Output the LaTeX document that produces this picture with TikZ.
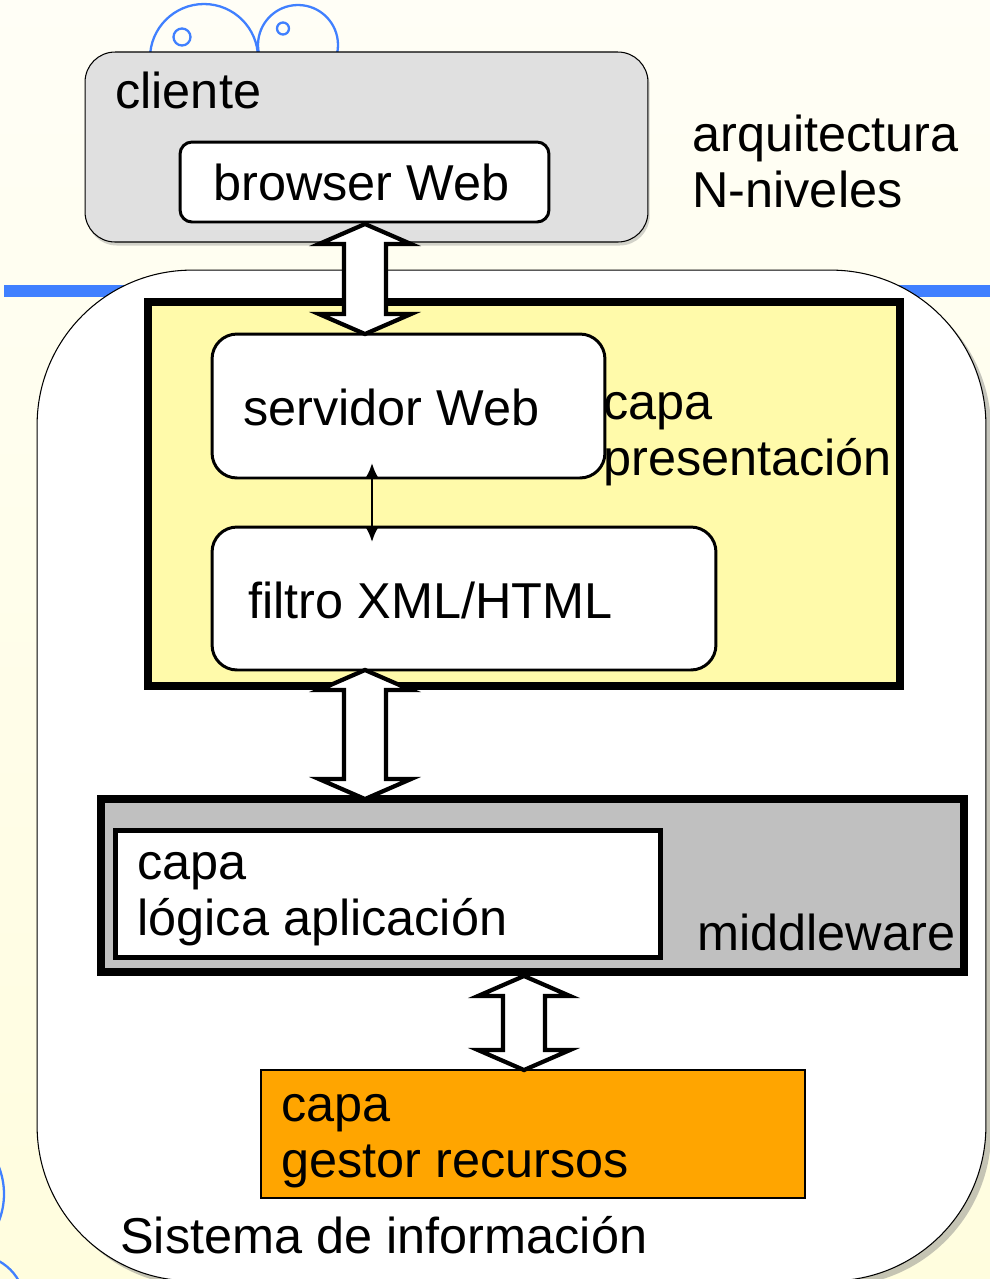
\documentclass[tikz,border=0pt]{standalone}
\usepackage{fontspec}
\setmainfont{Liberation Sans}
\usetikzlibrary{positioning,arrows.meta,calc,shadows}
\definecolor{bgtop}{RGB}{255,254,246}
\definecolor{bgbot}{RGB}{255,253,222}
\definecolor{bubble}{RGB}{64,128,255}
\definecolor{clientgray}{RGB}{224,224,224}
\definecolor{presyellow}{RGB}{255,250,170}
\definecolor{midgray}{RGB}{192,192,192}
\definecolor{resorange}{RGB}{255,165,0}
% hollow double arrow between two points on one vertical
\newcommand{\fatarrow}[2]{%
  \draw[fatarrow] (#1) -- ($(#1)+(46,20)$) -- ($(#1)+(21,20)$) -- ($(#2)+(21,-20)$)
    -- ($(#2)+(46,-20)$) -- (#2) -- ($(#2)+(-46,-20)$) -- ($(#2)+(-21,-20)$)
    -- ($(#1)+(-21,20)$) -- ($(#1)+(-46,20)$) -- cycle;}

\begin{document}
\begin{tikzpicture}[x=0.02cm,y=-0.02cm,
  box/.style={draw,inner sep=0pt,outer sep=0pt},
  lbl/.style={anchor=base west,inner sep=0pt,align=left,font=\fontsize{28.7}{31.5}\selectfont},
  fatarrow/.style={draw=black,fill=white,line width=2.4pt,line join=miter}]
  \useasboundingbox (0,0) rectangle (990,1279);
  \clip (0,0) rectangle (990,1279);
  % background
  \shade[top color=bgtop,bottom color=bgbot] (0,0) rectangle (990,1279);
  \draw[bubble,line width=6.3pt] (4,291) -- (1000,291);
  % bubbles
  \draw[bubble,line width=1.3pt] (204,58) circle (54);
  \draw[bubble,line width=1.3pt] (298,45) circle (40);
  \draw[bubble,line width=1.3pt] (182,37) circle (8.5);
  \draw[bubble,line width=1.3pt] (283,28.5) circle (6);
  \draw[bubble,line width=1.3pt] (-70,1194) circle (74);
  \draw[bubble,line width=1.3pt] (-25,1305) circle (50);
  % client side
  \node[box,fill=clientgray,line width=0.6pt,rounded corners=0.6cm,minimum width=11.26cm,minimum height=3.8cm,
    drop shadow={shadow xshift=1pt,shadow yshift=-2pt,opacity=0.35}] (cliente) at (366.5,147) {};
  \node[box,fill=white,line width=1.7pt,rounded corners=0.24cm,minimum width=7.38cm,minimum height=1.6cm] (browser) at (364.5,182) {};
  % information system
  \node[box,fill=white,line width=0.6pt,rounded corners=3.1cm,minimum width=18.98cm,minimum height=20.22cm,
    drop shadow={shadow xshift=3pt,shadow yshift=-3pt,opacity=0.45}] (sistema) at (511.5,775.5) {};
  \node[box,fill=presyellow,line width=4.5pt,minimum width=15.04cm,minimum height=7.68cm] (presentacion) at (524,494) {};
  \node[box,fill=white,line width=1.7pt,rounded corners=0.5cm,minimum width=7.86cm,minimum height=2.88cm] (servidor) at (408.5,406) {};
  \node[box,fill=white,line width=1.7pt,rounded corners=0.5cm,minimum width=10.08cm,minimum height=2.86cm] (filtro) at (464,598.5) {};
  \node[box,fill=midgray,line width=4.5pt,minimum width=17.26cm,minimum height=3.46cm] (middleware) at (532.5,885.5) {};
  \node[box,fill=white,line width=2.8pt,minimum width=10.9cm,minimum height=2.54cm] (logica) at (388,894) {};
  \node[box,fill=resorange,line width=1.5pt,minimum width=10.88cm,minimum height=2.56cm] (gestor) at (533,1134) {};
  % connectors
  \coordinate (a1top) at ($(browser.south)+(0.5,2)$);
  \coordinate (a1bot) at (a1top |- servidor.north);
  \coordinate (a2top) at (a1top |- filtro.south);
  \coordinate (a2bot) at (a1top |- middleware.north);
  \coordinate (a3top) at ($(middleware.south)+(-8.5,4)$);
  \coordinate (a3bot) at (a3top |- gestor.north);
  \fatarrow{a1top}{a1bot}
  \fatarrow{a2top}{a2bot}
  \fatarrow{a3top}{a3bot}
  \draw[{Latex[length=8.5pt,width=7.5pt]}-{Latex[length=8.5pt,width=7.5pt]},line width=1.4pt]
    ($(servidor.south)+(-36.5,-15)$) -- ($(servidor.south |- filtro.north)+(-36.5,15)$);
  % labels (base = last line)
  \node[lbl] (lcliente) at (115,108) {cliente};
  \node[lbl] (lbrowser) at (213,200) {browser Web};
  \node[lbl] (larq) at (692,207) {arquitectura\\N-niveles};
  \node[lbl] (lservidor) at (243,425) {servidor Web};
  \node[lbl] (lpres) at (603,475) {capa\\presentación};
  \node[lbl] (lfiltro) at (248,618) {filtro XML/HTML};
  \node[lbl] (llogica) at (137,935) {capa\\lógica aplicación};
  \node[lbl] (lmiddle) at (697,950) {middleware};
  \node[lbl] (lgestor) at (281,1177) {capa\\gestor recursos};
  \node[lbl] (lsistema) at (120,1253) {Sistema de información};
\end{tikzpicture}
\end{document}
